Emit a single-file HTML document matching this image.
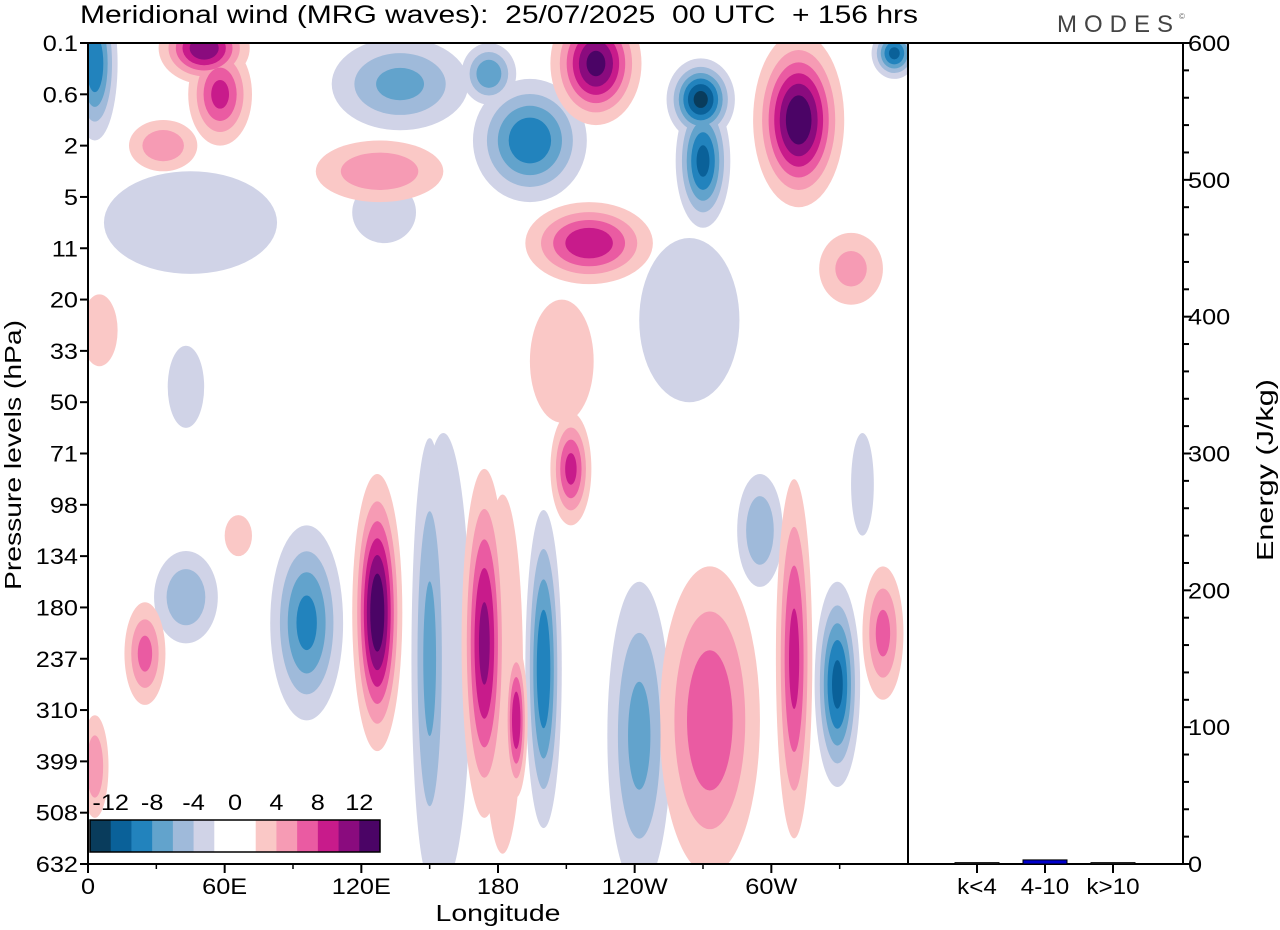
<!DOCTYPE html>
<html><head><meta charset="utf-8">
<style>
html,body{margin:0;background:#fff;overflow:hidden;width:1280px;height:930px;}
svg{display:block;font-family:"Liberation Sans",Arial,sans-serif;}
</style></head>
<body>
<svg id="chart" width="1280" height="930" viewBox="0 0 1280 930" xmlns="http://www.w3.org/2000/svg" style="overflow:hidden">
<defs><clipPath id="plotclip"><rect x="88" y="43" width="820" height="821"/></clipPath></defs>
<rect x="0" y="0" width="1280" height="930" fill="#fff"/>
<text x="80" y="23" font-size="25" fill="#000" style="white-space:pre" textLength="838" lengthAdjust="spacingAndGlyphs">Meridional wind (MRG waves):  25/07/2025  00 UTC  + 156 hrs</text>
<text x="1057" y="32" font-size="24" fill="#444" letter-spacing="7">MODES</text>
<text x="1179" y="19" font-size="8" fill="#666">©</text>
<g id="field" clip-path="url(#plotclip)"></g>
<g id="axes"></g>
<g id="bars"></g>
<g id="cbar"></g>
</svg>
<script>
// ---- data ----
const pressureLevels = ["0.1","0.6","2","5","11","20","33","50","71","98","134","180","237","310","399","508","632"];
const lonTicks = [0,60,120,180,240,300];
const lonTickLabels = ["0","60E","120E","180","120W","60W"];
const energyTicks = [0,100,200,300,400,500,600];
const energyCats = ["k<4","4-10","k>10"];
const energyVals = [1,3,1];
const cbarLabels = ["-12","-8","-4","0","4","8","12"];
// wind anomaly blobs: longitude (deg E), level index, amplitude (m/s), outer lon half-width (deg), outer level half-width
const blobLon = [156,182,96,127,150,174,188,200,212,242,273,310,329,349,25,43,3,295,66,340,
                 51,58,3,223,312,269,270,194,137,176,354,220,128,33,45,264,208,335,130,43,5];
const blobLev = [12,12.3,11.3,11.1,12,11.7,13.2,12.2,8.3,13.5,13.2,12,12.5,11.5,11.9,10.8,14.1,9.5,9.6,8.6,
                 0.1,1.0,0.4,0.4,1.5,1.1,2.3,1.9,0.8,0.6,0.2,3.9,2.5,2.0,3.5,5.4,6.2,4.4,3.3,6.7,5.6];
const blobAmp = [-3,3,-9,14,-7,11,10,-10,9,-7,8,9,-11,7,7,-6,6,-6,3.5,-4,
                 12,9,-10,13,14,-13,-11,-10,-7,-8,-11,10,6,6,-3.5,-3.5,3.5,5,-3,-3,3.5];
const blobSx = [12,9,16,11,8,10,5,8,9,14,22,8,10,9,9,14,6,10,6,5,
                20,14,10,20,20,15,12,25,30,12,10,28,28,15,38,22,14,14,14,8,8];
const blobSy = [4.4,3.5,1.9,2.7,4.3,3.4,1.5,3.1,1.1,3,3,3.5,2,1.3,1,0.9,1,1.1,0.4,1,
                0.7,1,1.5,1.2,1.7,0.8,1.3,1.2,0.9,0.6,0.5,0.8,0.6,0.5,1,1.6,1.2,0.7,0.6,0.8,0.7];

const posCols = ["#fac8c6","#f69bb4","#ea5ba2","#c81b8b","#8a0b7e","#4b0466"];
const negCols = ["#d0d3e7","#9fbada","#62a3cc","#2283bd","#0a6199","#093c5c"];
const thresholds = [2,4,6,8,10,12];

const NS="http://www.w3.org/2000/svg";
const X0=88,X1=908,Y0=43,Y1=864;
const xLon = l => X0 + l*(X1-X0)/360;
const yLev = i => Y0 + i*(Y1-Y0)/16;
const yEn = e => Y1 - e*(Y1-Y0)/600;
function mk(tag,attrs,parent){const e=document.createElementNS(NS,tag);for(const k in attrs)e.setAttribute(k,attrs[k]);parent.appendChild(e);return e;}
function widen(el,f){const w=el.getComputedTextLength();el.setAttribute('textLength',w*f);el.setAttribute('lengthAdjust','spacingAndGlyphs');}

const field=document.getElementById('field');
thresholds.forEach((t,k)=>{
  [-1,1].forEach(sign=>{
    blobAmp.forEach((a,i)=>{
      if(a*sign<=0) return;
      const A=Math.abs(a); if(A<=t) return;
      const f=Math.sqrt(Math.log(A/t)/Math.log(A/2));
      const e=mk('ellipse',{cx:xLon(blobLon[i]),cy:yLev(blobLev[i]),rx:blobSx[i]*f*(X1-X0)/360,ry:blobSy[i]*f*(Y1-Y0)/16,fill:(sign>0?posCols:negCols)[k]},field);
      
      
    });
  });
});

const axes=document.getElementById('axes');
let r=mk('rect',{x:X0,y:Y0,width:X1-X0,height:Y1-Y0,fill:'none',stroke:'#000','stroke-width':2},axes);

r=mk('rect',{x:X1,y:Y0,width:1183-X1,height:Y1-Y0,fill:'none',stroke:'#000','stroke-width':2},axes);

pressureLevels.forEach((p,i)=>{
  const y=yLev(i);
  mk('line',{x1:80,x2:X0,y1:y,y2:y,stroke:'#000','stroke-width':2},axes);
  const t=mk('text',{x:78,y:y+8,'font-size':22,'text-anchor':'end'},axes);t.textContent=p;
  
  widen(t,1.15);
});
for(let l=30;l<360;l+=60){
  const x=xLon(l);
  mk('line',{x1:x,x2:x,y1:Y1,y2:Y1+5,stroke:'#000','stroke-width':1.5},axes);
}
lonTicks.forEach((l,i)=>{
  const x=xLon(l);
  mk('line',{x1:x,x2:x,y1:Y1,y2:Y1+9,stroke:'#000','stroke-width':2},axes);
  const t=mk('text',{x:x,y:894,'font-size':22,'text-anchor':'middle'},axes);t.textContent=lonTickLabels[i];
  
  widen(t,1.15);
});
for(let e=0;e<=600;e+=20){
  const y=yEn(e),maj=e%100===0;
  mk('line',{x1:1183,x2:1183+(maj?8:6),y1:y,y2:y,stroke:'#000','stroke-width':2},axes);
}
energyTicks.forEach(e=>{
  const t=mk('text',{x:1188,y:yEn(e)+8,'font-size':22},axes);t.textContent=e;
  
  widen(t,1.15);
});
let t=mk('text',{x:498,y:921,'font-size':23,'text-anchor':'middle','textLength':125,'lengthAdjust':'spacingAndGlyphs'},axes);t.textContent='Longitude';

t=mk('text',{x:21,y:455,'font-size':23,'text-anchor':'middle',transform:'rotate(-90 21 455)','textLength':270,'lengthAdjust':'spacingAndGlyphs'},axes);t.textContent='Pressure levels (hPa)';

t=mk('text',{x:1273,y:470,'font-size':23,'text-anchor':'middle',transform:'rotate(-90 1273 470)','textLength':182,'lengthAdjust':'spacingAndGlyphs'},axes);t.textContent='Energy (J/kg)';


const bars=document.getElementById('bars');
energyCats.forEach((c,i)=>{
  const cx=977+i*68;
  const b=mk('rect',{x:cx-22,y:yEn(energyVals[i]),width:44,height:Y1-yEn(energyVals[i]),fill:i===1?'#0000cc':'#333',stroke:'#000','stroke-width':1},bars);
  
  mk('line',{x1:cx,x2:cx,y1:Y1,y2:Y1+9,stroke:'#000','stroke-width':2},bars);
  const l=mk('text',{x:cx,y:894,'font-size':22,'text-anchor':'middle'},bars);l.textContent=c;
  
  widen(l,1.1);
});

const cbar=document.getElementById('cbar');
const cbCols=[...negCols].reverse().concat(["#ffffff","#ffffff"]).concat(posCols);
const cw=290/14;
cbCols.forEach((c,i)=>{
  const s=mk('rect',{x:90+i*cw,y:820,width:cw+0.5,height:32,fill:c},cbar);
  
});
mk('rect',{x:90,y:820,width:290,height:32,fill:'none',stroke:'#000','stroke-width':1.5},cbar);
cbarLabels.forEach((l,i)=>{
  const x=90+cw*(1+2*i);
  const tl=mk('text',{x:x,y:810,'font-size':22,'text-anchor':'middle'},cbar);tl.textContent=l;
  
  widen(tl,1.15);
});
</script>
</body></html>
